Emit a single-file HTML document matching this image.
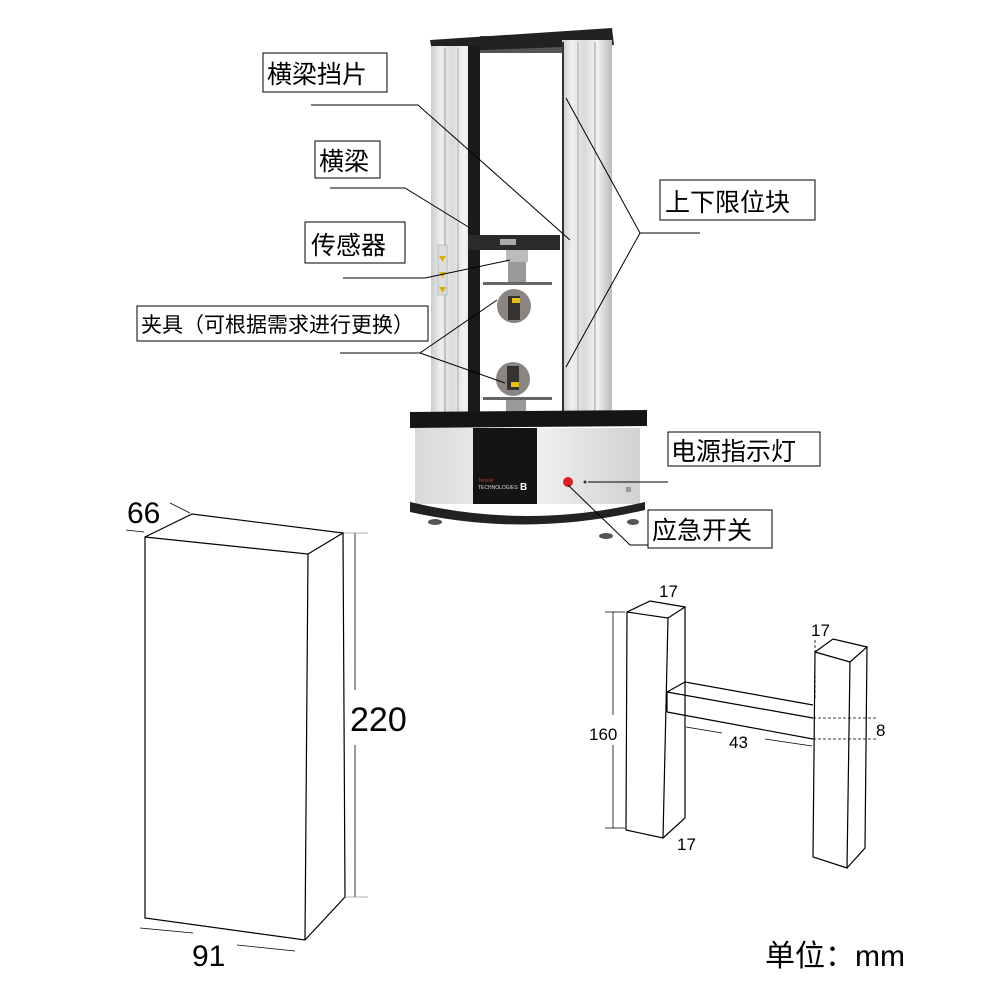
<!DOCTYPE html>
<html><head><meta charset="utf-8"><style>
html,body{margin:0;padding:0;background:#fff}
svg{display:block}
text{font-family:"Liberation Sans","Noto Sans CJK SC",sans-serif}
</style></head><body>
<svg width="1000" height="1000" viewBox="0 0 1000 1000" xmlns="http://www.w3.org/2000/svg">
<defs>
<linearGradient id="col" x1="0" x2="1">
<stop offset="0" stop-color="#c9cbcc"/><stop offset="0.2" stop-color="#eef0f0"/><stop offset="0.45" stop-color="#d8dadb"/><stop offset="0.7" stop-color="#f3f4f4"/><stop offset="1" stop-color="#b8babb"/>
</linearGradient>
<linearGradient id="cab" x1="0" x2="1">
<stop offset="0" stop-color="#d8d9da"/><stop offset="0.5" stop-color="#f2f2f2"/><stop offset="1" stop-color="#d0d1d2"/>
</linearGradient>
</defs>
<rect x="480" y="36" width="84" height="17" fill="#555"/>
<polygon points="430,40 612,28 614,45 432,52" fill="#222"/>
<rect x="431" y="46" width="48" height="372" fill="url(#col)"/>
<rect x="468" y="46" width="12" height="372" fill="#1a1a1a"/>
<line x1="445" y1="48" x2="445" y2="416" stroke="#999" stroke-width="1"/>
<line x1="458" y1="48" x2="458" y2="416" stroke="#aaa" stroke-width="1"/>
<rect x="562" y="40" width="50" height="380" fill="url(#col)"/>
<line x1="563" y1="42" x2="563" y2="418" stroke="#333" stroke-width="2"/>
<line x1="578" y1="42" x2="578" y2="418" stroke="#aaa"/>
<line x1="595" y1="42" x2="595" y2="418" stroke="#999"/>
<rect x="438" y="245" width="9" height="50" fill="#ddd" stroke="#999" stroke-width="0.5"/>
<polygon points="439,256 446,256 442.5,262" fill="#d9b200"/>
<polygon points="439,272 446,272 442.5,278" fill="#d9b200"/>
<polygon points="439,287 446,287 442.5,293" fill="#d9b200"/>
<rect x="468" y="235" width="92" height="15" fill="#2a2a2a"/>
<rect x="500" y="239" width="16" height="6" fill="#aaa"/>
<rect x="506" y="250" width="22" height="12" fill="#bbb"/>
<rect x="508" y="262" width="18" height="20" fill="#999"/>
<rect x="483" y="282" width="69" height="3" fill="#666"/>
<circle cx="514" cy="306" r="17" fill="#8a8580"/>
<rect x="508" y="296" width="12" height="24" fill="#333"/>
<rect x="512" y="298" width="8" height="5" fill="#e5c300"/>
<circle cx="513" cy="379" r="17" fill="#8a8580"/>
<rect x="507" y="366" width="12" height="24" fill="#333"/>
<rect x="511" y="382" width="8" height="5" fill="#e5c300"/>
<rect x="483" y="397" width="69" height="3" fill="#666"/>
<rect x="506" y="400" width="20" height="22" fill="#999"/>
<polygon points="410,412 647,410 647,426 410,428" fill="#151515"/>
<rect x="415" y="428" width="225" height="76" fill="url(#cab)"/>
<path d="M410,502 Q527,530 645,502 L645,510 Q527,538 410,512 Z" fill="#222"/>
<rect x="473" y="428" width="64" height="76" fill="#141414"/>
<text x="478" y="482" font-size="5" fill="#c33">Tensile</text>
<text x="478" y="489" font-size="5" fill="#ddd">TECHNOLOGIES</text>
<text x="520" y="490" font-size="10" fill="#fff" font-weight="bold">B</text>
<circle cx="568" cy="482" r="5" fill="#e02020"/>
<circle cx="585" cy="482" r="1.5" fill="#333"/>
<rect x="626" y="487" width="5" height="5" fill="#999"/>
<ellipse cx="435" cy="522" rx="7" ry="3" fill="#555"/>
<ellipse cx="606" cy="536" rx="7" ry="3" fill="#555"/>
<ellipse cx="633" cy="522" rx="6" ry="3" fill="#555"/>
<g stroke="#000" stroke-width="1" fill="none">
<polyline points="311,105 418,105 570,240"/>
<polyline points="330,188 405,188 470,228"/>
<polyline points="343,278 425,278 510,260"/>
<polyline points="340,353 420,353 497,300"/>
<line x1="420" y1="353" x2="505" y2="383"/>
<polyline points="700,233 640,233 566,98"/>
<line x1="640" y1="233" x2="566" y2="367"/>
<line x1="668" y1="482" x2="588" y2="482"/>
<polyline points="568,485 630,545 650,545"/>
</g>
<g fill="#fff" stroke="#000" stroke-width="1">
<rect x="263" y="53" width="124" height="39"/>
<rect x="315" y="141" width="65" height="37"/>
<rect x="305" y="222" width="100" height="41"/>
<rect x="137" y="306" width="291" height="35"/>
<rect x="660" y="180" width="155" height="40"/>
<rect x="668" y="432" width="152" height="34"/>
<rect x="648" y="510" width="124" height="38"/>
</g>
<g font-size="25" fill="#000">
<text x="267" y="83">横梁挡片</text>
<text x="319" y="170">横梁</text>
<text x="311" y="254">传感器</text>
<text x="141" y="332" font-size="21">夹具（可根据需求进行更换）</text>
<text x="665" y="211">上下限位块</text>
<text x="671" y="460">电源指示灯</text>
<text x="652" y="539">应急开关</text>
</g>
<g stroke="#000" stroke-width="1.2" fill="none">
<polygon points="145,537 308,554 305,940 145,918"/>
<polyline points="145,537 192,514 343,533 308,554"/>
<polyline points="343,533 345,897 305,940"/>
</g>
<g stroke="#000" stroke-width="0.8" fill="none">
<line x1="355" y1="533" x2="355" y2="690"/>
<line x1="355" y1="745" x2="355" y2="897"/>
<line x1="345" y1="533" x2="368" y2="533" stroke="#999"/>
<line x1="345" y1="897" x2="368" y2="897" stroke="#999"/>
<line x1="140" y1="928" x2="193" y2="933"/>
<line x1="237" y1="945" x2="295" y2="951"/>
<line x1="126" y1="530" x2="144" y2="532"/>
<line x1="170" y1="503" x2="190" y2="513"/>
</g>
<text x="127" y="523" font-size="30">66</text>
<text x="350" y="731" font-size="34">220</text>
<text x="192" y="966" font-size="30">91</text>
<text x="765" y="966" font-size="30">单位：mm</text>
<g stroke="#000" stroke-width="1.2" fill="none">
<polygon points="627,612 668,618 663,838 626,830"/>
<polyline points="627,612 650,601 685,607 668,618"/>
<polyline points="685,607 685,818 663,838"/>
<polyline points="667,692 685,682 813,705"/>
<line x1="667" y1="692" x2="813" y2="718"/>
<line x1="667" y1="712" x2="813" y2="739"/>
<line x1="667" y1="692" x2="667" y2="712"/>
<polygon points="815,652 850,662 847,868 813,857"/>
<polyline points="815,652 833,639 867,647 850,662"/>
<polyline points="867,647 865,848 847,868"/>
</g>
<g stroke="#000" stroke-width="0.8" fill="none">
<line x1="613" y1="612" x2="613" y2="715"/>
<line x1="613" y1="745" x2="613" y2="828"/>
<line x1="605" y1="612" x2="625" y2="612"/>
<line x1="605" y1="828" x2="625" y2="828"/>
<line x1="686" y1="727" x2="722" y2="733"/>
<line x1="765" y1="739" x2="812" y2="746"/>
<line x1="813" y1="718" x2="878" y2="718" stroke-dasharray="3,2"/>
<line x1="813" y1="739" x2="878" y2="739" stroke-dasharray="3,2"/>
<line x1="815" y1="640" x2="815" y2="700" stroke-dasharray="3,2"/>
</g>
<text x="589" y="740" font-size="17">160</text>
<text x="659" y="597" font-size="17">17</text>
<text x="811" y="636" font-size="17">17</text>
<text x="876" y="736" font-size="17">8</text>
<text x="729" y="748" font-size="17">43</text>
<text x="677" y="850" font-size="17">17</text>
</svg>
</body></html>
